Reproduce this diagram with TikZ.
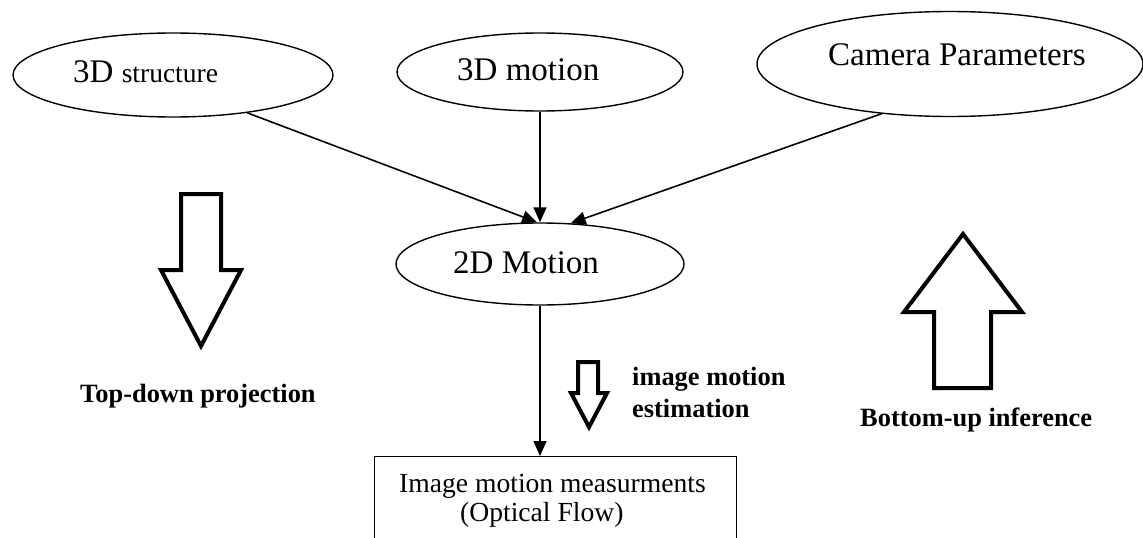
\documentclass[tikz,border=0pt]{standalone}
\usepackage{fontspec}
\setmainfont{Liberation Serif}
\usetikzlibrary{shapes.geometric,arrows.meta}
\begin{document}
\begin{tikzpicture}[x=1pt,y=-1pt,
  ell/.style={draw, ellipse, line width=1.4pt, inner sep=0pt},
  conn/.style={line width=1.6pt, -{Triangle[length=15pt,width=13pt]}},
  blk/.style={draw, line width=4pt, miter limit=10, fill=white},
  txt/.style={font=\fontsize{33}{38}\selectfont, inner sep=0pt, anchor=base west},
  stxt/.style={font=\fontsize{27.6}{31}\selectfont, inner sep=0pt, anchor=base west},
  lbl/.style={font=\fontsize{26.4}{30}\selectfont\bfseries, inner sep=0pt, anchor=base west}]
\useasboundingbox (0,0) rectangle (1143,538);
\clip (0,0) rectangle (1143,538);
\fill[white] (0,0) rectangle (1143,538);
% ellipses
\node[ell, minimum width=320, minimum height=84] (s3d) at (173,75) {};
\node[ell, minimum width=286, minimum height=78] (m3d) at (540,72) {};
\node[ell, minimum width=386, minimum height=105] (cam) at (950,64) {};
\node[ell, minimum width=288, minimum height=82] (m2d) at (540,264) {};
% ellipse texts
\node[txt] (t1) at (73,82) {3D \fontsize{27.5}{30}\selectfont structure};
\node[txt] (t2) at (457,80) {3D motion};
\node[txt] (t3) at (828,65) {Camera Parameters};
\node[txt] (t4) at (453,273) {2D Motion};
% box
\node[draw, line width=1.4pt, minimum width=362, minimum height=130, anchor=north west, inner sep=0pt] (box) at (374,456) {};
\node[stxt] (b1) at (399,492) {Image motion measurments};
\node[stxt] (b2) at (460,521) {(Optical Flow)};
% connectors
\draw[conn] (s3d.-27) -- (m2d.94);
\draw[conn] (m3d.south) -- (m2d.north);
\draw[conn] (cam.-144) -- (m2d.53);
\draw[conn] (m2d.south) -- (m2d.south |- box.north);
% block arrows
\draw[blk] (181,194) -- (221,194) -- (221,270) -- (241,270) -- (201,346) -- (161,270) -- (181,270) -- cycle;
\draw[blk] (578,362) -- (598,362) -- (598,393) -- (607,393) -- (589,427) -- (571,393) -- (578,393) -- cycle;
\draw[blk] (934,388) -- (991,388) -- (991,312) -- (1022,312) -- (963,234) -- (904,312) -- (934,312) -- cycle;
% labels
\node[lbl] (l1) at (80,402) {Top-down projection};
\node[lbl] (l2) at (632,385) {image motion};
\node[lbl] (l3) at (632,417) {estimation};
\node[lbl] (l4) at (860,426) {Bottom-up inference};
\end{tikzpicture}
\end{document}
